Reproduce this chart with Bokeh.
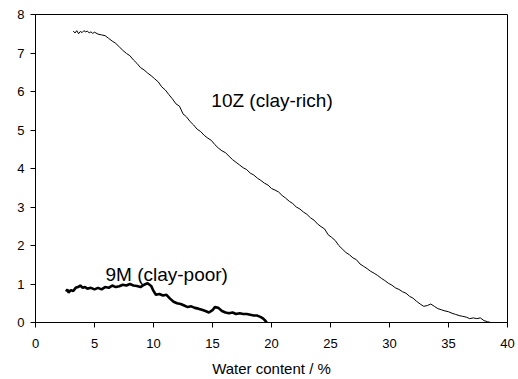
from bokeh.plotting import figure
from bokeh.models import Range1d, FixedTicker, ColumnDataSource
from bokeh.core.properties import value
from bokeh.embed import file_html
from bokeh.resources import INLINE

# 10Z (clay-rich)
x_10z = [3.2, 3.35, 3.5, 3.65, 3.8, 3.95, 4.1, 4.25, 4.4, 4.55, 4.7, 4.85, 5.0, 5.3, 5.6, 5.9,
         6.2, 6.5, 6.8, 7.1, 7.4, 7.7, 8.0, 8.3, 8.6, 8.9, 9.2, 9.5, 9.8, 10.1, 10.4, 10.7,
         11.0, 11.3, 11.6, 11.9, 12.2, 12.5, 12.8, 13.1, 13.4, 13.7, 14.0, 14.3, 14.6, 14.9,
         15.2, 15.5, 15.8, 16.1, 16.4, 16.7, 17.0, 17.3, 17.6, 17.9, 18.2, 18.5, 18.8, 19.1,
         19.4, 19.7, 20.0, 20.3, 20.6, 20.9, 21.2, 21.5, 21.8, 22.1, 22.4, 22.7, 23.0, 23.3,
         23.6, 23.9, 24.2, 24.5, 24.8, 25.1, 25.4, 25.7, 26.0, 26.3, 26.6, 26.9, 27.2, 27.5,
         27.8, 28.1, 28.4, 28.7, 29.0, 29.3, 29.6, 29.9, 30.2, 30.5, 30.8, 31.1, 31.4, 31.7,
         32.0, 32.3, 32.6, 32.9, 33.2, 33.5, 33.8, 34.1, 34.4, 34.7, 35.0, 35.3, 35.6, 35.9,
         36.2, 36.5, 36.8, 37.1, 37.4, 37.7, 38.0, 38.3, 38.6]
y_10z = [7.57, 7.52, 7.58, 7.50, 7.56, 7.53, 7.58, 7.55, 7.57, 7.52, 7.55, 7.51, 7.54, 7.49, 7.47, 7.45,
         7.38, 7.31, 7.25, 7.16, 7.07, 6.99, 6.93, 6.82, 6.73, 6.62, 6.56, 6.48, 6.41, 6.33, 6.25, 6.12,
         6.04, 5.92, 5.81, 5.68, 5.62, 5.42, 5.34, 5.22, 5.13, 5.02, 4.96, 4.86, 4.79, 4.73,
         4.62, 4.53, 4.46, 4.41, 4.32, 4.23, 4.16, 4.09, 4.02, 3.97, 3.88, 3.83, 3.75, 3.69,
         3.62, 3.57, 3.48, 3.44, 3.39, 3.30, 3.23, 3.15, 3.09, 3.00, 2.95, 2.87, 2.81, 2.72,
         2.66, 2.56, 2.49, 2.43, 2.28, 2.21, 2.13, 2.00, 1.91, 1.82, 1.76, 1.68, 1.63, 1.52,
         1.46, 1.40, 1.33, 1.28, 1.22, 1.15, 1.09, 1.02, 0.97, 0.90, 0.86, 0.80, 0.76, 0.68,
         0.63, 0.55, 0.48, 0.42, 0.44, 0.48, 0.42, 0.36, 0.33, 0.30, 0.28, 0.24, 0.21, 0.18,
         0.16, 0.14, 0.10, 0.12, 0.10, 0.12, 0.05, 0.02, 0.00]

# 9M (clay-poor)
x_9m = [2.6, 2.7, 2.8, 3.0, 3.2, 3.4, 3.6, 3.8, 4.0, 4.2, 4.4, 4.7, 5.0, 5.3, 5.6, 5.9,
        6.2, 6.5, 6.8, 7.1, 7.4, 7.7, 8.0, 8.3, 8.6, 8.9, 9.2, 9.5, 9.8, 10.0, 10.2, 10.5,
        10.8, 11.1, 11.4, 11.7, 12.0, 12.3, 12.6, 12.9, 13.2, 13.5, 13.8, 14.1, 14.4, 14.7,
        15.0, 15.2, 15.5, 15.8, 16.1, 16.4, 16.7, 17.0, 17.3, 17.6, 17.9, 18.2, 18.5, 18.8,
        19.1, 19.3, 19.5, 19.6]
y_9m = [0.80, 0.86, 0.78, 0.84, 0.82, 0.90, 0.92, 0.96, 0.90, 0.92, 0.88, 0.90, 0.86, 0.90, 0.86, 0.92,
        0.90, 0.96, 0.92, 0.94, 0.98, 0.96, 1.00, 0.96, 0.95, 0.92, 0.98, 1.02, 0.95, 0.82, 0.72, 0.74,
        0.70, 0.72, 0.62, 0.54, 0.50, 0.48, 0.44, 0.40, 0.42, 0.38, 0.36, 0.33, 0.30, 0.26,
        0.32, 0.40, 0.38, 0.30, 0.26, 0.24, 0.26, 0.22, 0.24, 0.22, 0.22, 0.20, 0.18, 0.18,
        0.14, 0.10, 0.04, 0.00]

x_ticks = [0, 5, 10, 15, 20, 25, 30, 35, 40]
y_ticks = [0, 1, 2, 3, 4, 5, 6, 7, 8]

label_text = ["10Z (clay-rich)", "9M (clay-poor)"]
label_x = [14.9, 5.93]
label_y = [5.76, 1.245]

FONT = "Liberation Sans"

p = figure(frame_width=472, frame_height=308, output_backend="svg", toolbar_location=None,
           x_range=Range1d(0, 40), y_range=Range1d(0, 8),
           min_border_left=35, min_border_top=14, min_border_right=8, min_border_bottom=55)

p.xgrid.visible = False
p.ygrid.visible = False
p.outline_line_color = "black"
p.outline_line_width = 1
p.background_fill_color = "white"
p.border_fill_color = "white"

p.line(x_10z, y_10z, line_color="black", line_width=1)
p.line(x_9m, y_9m, line_color="black", line_width=2.6)

src = ColumnDataSource(dict(x=label_x, y=label_y, t=label_text))
p.text(x="x", y="y", text="t", source=src, text_font=value(FONT), text_font_size=value("19px"),
       text_color="black", text_baseline="alphabetic", text_align="left")

for ax, ticks in ((p.xaxis[0], x_ticks), (p.yaxis[0], y_ticks)):
    ax.ticker = FixedTicker(ticks=ticks)
    ax.minor_tick_line_color = None
    ax.major_tick_in = 0
    ax.major_tick_out = 5
    ax.axis_line_color = "black"
    ax.major_tick_line_color = "black"
    ax.major_label_text_font = FONT
    ax.major_label_text_font_size = "13px"
    ax.major_label_text_color = "black"

p.yaxis.major_label_standoff = 6
p.xaxis.major_label_standoff = 11
p.xaxis.axis_label = "Water content / %"
p.xaxis.axis_label_text_font = FONT
p.xaxis.axis_label_text_font_size = "15px"
p.xaxis.axis_label_text_font_style = "normal"
p.xaxis.axis_label_text_color = "black"
p.xaxis.axis_label_standoff = 9

open("out.html", "w").write(file_html(p, INLINE))
